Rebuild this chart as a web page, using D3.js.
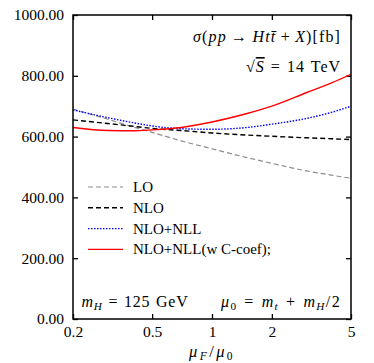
<!DOCTYPE html>
<html>
<head>
<meta charset="utf-8">
<script src="https://cdn.jsdelivr.net/npm/d3@7"></script>
<style>
  body { margin: 0; background: #fff; }
  svg text { font-family: "Liberation Serif", "Times New Roman", serif; fill: #000; }
</style>
</head>
<body>
<svg id="chart"></svg>
<script>
// scale ratio mu_F / mu_0 where the curves were read
const muValues = [0.2, 0.3, 0.4, 0.5, 0.7, 1, 1.5, 2, 3, 4, 5];
// cross sections in fb
const loValues = [690, 657, 632, 614, 586, 560, 531, 512, 487, 473, 463];
const nloValues = [655, 643, 634, 627, 620, 612, 605, 601, 596, 593, 590];
const nllValues = [688, 662, 646, 635, 626, 624, 630, 641, 660, 680, 700];
const nllCValues = [630, 620, 619, 622, 630, 648, 676, 700, 745, 777, 805];

const xTicks = [0.2, 0.5, 1, 2, 5];
const yTicks = [0, 200, 400, 600, 800, 1000];
const legendNames = ["LO", "NLO", "NLO+NLL", "NLO+NLL(w C-coef);"];

const WIDTH = 374,
  HEIGHT = 363,
  margin = {top: 15, right: 23, bottom: 44, left: 73},
  innerW = WIDTH - margin.left - margin.right,
  innerH = HEIGHT - margin.top - margin.bottom,
  TICK = 5;

const svg = d3.select("#chart")
  .attr("width", WIDTH)
  .attr("height", HEIGHT);

const g = svg.append("g")
  .attr("transform", `translate(${margin.left},${margin.top})`);

const x = d3.scaleLog().domain([0.2, 5]).range([0, innerW]);
const y = d3.scaleLinear().domain([0, 1000]).range([innerH, 0]);

// axes, ticks point inward like the original
g.append("g")
  .attr("class", "axis")
  .call(d3.axisLeft(y).tickValues(yTicks).tickFormat(d3.format(".2f"))
    .tickSizeInner(-TICK).tickSizeOuter(0).tickPadding(9));

g.append("g")
  .attr("class", "axis")
  .attr("transform", `translate(${innerW},0)`)
  .call(d3.axisRight(y).tickValues(yTicks).tickFormat("")
    .tickSizeInner(-TICK).tickSizeOuter(0));

g.append("g")
  .attr("class", "axis")
  .attr("transform", `translate(0,${innerH})`)
  .call(d3.axisBottom(x).tickValues(xTicks).tickFormat(d => d)
    .tickSizeInner(-TICK).tickSizeOuter(0).tickPadding(7));

g.append("g")
  .attr("class", "axis")
  .call(d3.axisTop(x).tickValues(xTicks).tickFormat("")
    .tickSizeInner(-TICK).tickSizeOuter(0));

g.selectAll(".axis .domain").remove();
g.selectAll(".axis line").attr("stroke", "#000").attr("stroke-width", 1.3);
g.selectAll(".axis text")
  .attr("font-family", "Liberation Serif, serif")
  .attr("font-size", 15.5)
  .attr("fill", "#000");

// series
const series = [
  {name: legendNames[0], values: loValues, color: "#8c8c8c", dash: "5,3", width: 1.2},
  {name: legendNames[1], values: nloValues, color: "#000", dash: "5,3", width: 1.4},
  {name: legendNames[2], values: nllValues, color: "#0000ff", dash: "1.5,1.5", width: 1.4},
  {name: legendNames[3], values: nllCValues, color: "#ff0000", dash: null, width: 1.4}
];

const line = d3.line()
  .x((d, i) => x(muValues[i]))
  .y(d => y(d))
  .curve(d3.curveMonotoneX);

g.append("defs").append("clipPath").attr("id", "clip")
  .append("rect").attr("width", innerW).attr("height", innerH);

g.append("g")
  .attr("clip-path", "url(#clip)")
  .selectAll("path")
  .data(series)
  .enter()
  .append("path")
  .attr("d", d => line(d.values))
  .attr("fill", "none")
  .attr("stroke", d => d.color)
  .attr("stroke-width", d => d.width)
  .attr("stroke-dasharray", d => d.dash);

// frame
g.append("rect")
  .attr("width", innerW)
  .attr("height", innerH)
  .attr("fill", "none")
  .attr("stroke", "#000")
  .attr("stroke-width", 1.5);

// legend
const legend = g.append("g").attr("transform", "translate(15,172)");
const rows = legend.selectAll("g")
  .data(series)
  .enter()
  .append("g")
  .attr("transform", (d, i) => `translate(0,${i * 20.8})`);

rows.append("line")
  .attr("x1", 0).attr("x2", 35)
  .attr("stroke", d => d.color)
  .attr("stroke-width", d => d.width)
  .attr("stroke-dasharray", d => d.dash);

rows.append("text")
  .attr("x", 45)
  .attr("dy", "0.33em")
  .attr("font-size", 15)
  .text(d => d.name);

// annotations with math-style italics
function mathText(parent, xpos, ypos, anchor, parts, size, width) {
  const t = parent.append("text")
    .attr("x", xpos)
    .attr("y", ypos)
    .attr("text-anchor", anchor)
    .attr("font-size", size)
    .attr("xml:space", "preserve");
  parts.forEach(p => {
    const s = t.append("tspan").text(p[0]);
    if (p[1] === "i" || p[1] === "isub") s.attr("font-style", "italic");
    if (p[1] === "sub" || p[1] === "isub") s.attr("font-size", size * 0.7).attr("dy", 3);
    if (p[1] === "bar") s.attr("font-style", "italic").style("text-decoration", "overline");
    if (p[2] === "up") s.attr("dy", -3);
  });
  // spread the glyphs a little so the width matches the LaTeX original
  if (width) {
    const w = t.node().getComputedTextLength(),
      str = t.text(),
      spaces = (str.match(/ /g) || []).length,
      extra = width - w,
      share = spaces > 0 ? 0.75 : 1;
    if (extra > 0) {
      t.attr("letter-spacing", extra * share / str.length);
      if (spaces > 0) t.attr("word-spacing", extra * (1 - share) / spaces);
    }
  }
  return t;
}

mathText(g, innerW - 10, 27, "end", [
  ["σ", "i"], ["("], ["pp", "i"], ["\u2009→\u2009"], ["Ht", "i"], ["t\u0304", "i"],
  ["\u2009+\u2009"], ["X", "i"], [")[fb]"]
], 16, 149);

mathText(g, innerW - 10, 57, "end", [
  ["√"], ["S", "bar"], [" = 14 TeV"]
], 16, 95);

mathText(g, 8.5, innerH - 12, "start", [
  ["m", "i"], ["H", "isub"], [" = 125 GeV", "n", "up"]
], 16, 107);

mathText(g, innerW - 10, innerH - 12, "end", [
  ["μ", "i"], ["0", "sub"], [" = ", "n", "up"], ["m", "i"], ["t", "isub"],
  [" + ", "n", "up"], ["m", "i"], ["H", "isub"], ["/2", "n", "up"]
], 16, 120);

mathText(svg, margin.left + innerW / 2, 357, "middle", [
  ["μ", "i"], ["F", "isub"], ["/", "n", "up"], ["μ", "i"], ["0", "sub"]
], 16.5, 46);
</script>
</body>
</html>
